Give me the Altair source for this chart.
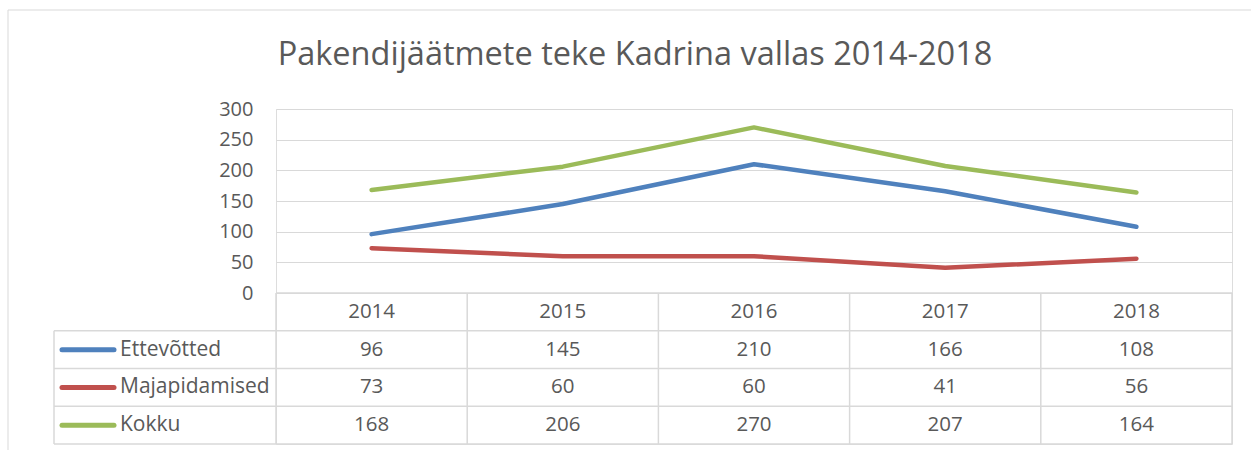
import altair as alt
import pandas as pd

# ---- data ----
years = [2014, 2015, 2016, 2017, 2018]
series = ["Ettevõtted", "Majapidamised", "Kokku"]
ettevotted = [96, 145, 210, 166, 108]
majapidamised = [73, 60, 60, 41, 56]
kokku = [168, 206, 270, 207, 164]
y_ticks = [0, 50, 100, 150, 200, 250, 300]
colors = ["#4F81BD", "#C0504D", "#9BBB59"]
title_text = "Pakendijäätmete teke Kadrina vallas 2014-2018"

# ---- layout constants ----
W, H = 956, 335        # plot area incl. data table
PLOT_H = 184           # line plot part
TXT = "#595959"
GRID = "#D9D9D9"
FONT = "Open Sans"

values_by_series = [ettevotted, majapidamised, kokku]

line_rows = []
for s, vals in zip(series, values_by_series):
    for y, v in zip(years, vals):
        line_rows.append({"year": y, "series": s, "value": v})
line_df = pd.DataFrame(line_rows)

cell_rows = [{"year": y, "row": 0.5, "label": str(y)} for y in years]
for i, vals in enumerate(values_by_series):
    for y, v in zip(years, vals):
        cell_rows.append({"year": y, "row": i + 1.5, "label": str(v)})
cell_df = pd.DataFrame(cell_rows)

legend_df = pd.DataFrame({"series": series, "row": [i + 1.5 for i in range(len(series))]})

edges = [y - 0.5 for y in years] + [years[-1] + 0.5]
vline_df = pd.DataFrame({"x": edges, "r0": [0] * len(edges), "r1": [len(series) + 1] * len(edges)})
hline_df = pd.DataFrame({"row": list(range(len(series) + 2)),
                         "x0": [edges[0]] * (len(series) + 2),
                         "x1": [edges[-1]] * (len(series) + 2)})
hline_leg_df = pd.DataFrame({"row": list(range(1, len(series) + 2))})
vline_leg_df = pd.DataFrame({"r0": [1], "r1": [len(series) + 1]})

xscale = alt.Scale(domain=[edges[0], edges[-1]], nice=False, zero=False)
vscale = alt.Scale(domain=[0, 300], range=[PLOT_H, 0], nice=False, zero=False)
def rscale():
    return alt.Scale(domain=[0, len(series) + 1], range=[PLOT_H, H], nice=False, zero=False)
cscale = alt.Scale(domain=series, range=colors)

lines = alt.Chart(line_df).mark_line(strokeWidth=4.5, strokeCap="round", strokeJoin="round").encode(
    x=alt.X("year:Q", scale=xscale, axis=None),
    y=alt.Y("value:Q", scale=vscale,
            axis=alt.Axis(values=y_ticks, grid=True, gridColor=GRID, gridWidth=1,
                          domain=False, ticks=False, tickSize=0, labelPadding=23,
                          labelFontSize=20, labelFont=FONT, labelColor=TXT, title=None)),
    color=alt.Color("series:N", scale=cscale, legend=None),
    order="year:Q",
)

vlines = alt.Chart(vline_df).mark_rule(color=GRID, strokeWidth=1.5).encode(
    x=alt.X("x:Q", scale=xscale, axis=None),
    y=alt.Y("r0:Q", scale=rscale(), axis=None),
    y2="r1:Q",
)

hlines = alt.Chart(hline_df).mark_rule(color=GRID, strokeWidth=1.5).encode(
    x=alt.X("x0:Q", scale=xscale, axis=None),
    x2="x1:Q",
    y=alt.Y("row:Q", scale=rscale(), axis=None),
)

hlines_leg = alt.Chart(hline_leg_df).mark_rule(color=GRID, strokeWidth=1.5).encode(
    x=alt.value(-222), x2=alt.value(0),
    y=alt.Y("row:Q", scale=rscale(), axis=None),
)

vline_leg = alt.Chart(vline_leg_df).mark_rule(color=GRID, strokeWidth=1.5).encode(
    x=alt.value(-222),
    y=alt.Y("r0:Q", scale=rscale(), axis=None),
    y2="r1:Q",
)

cells = alt.Chart(cell_df).mark_text(font=FONT, fontSize=20.5, color=TXT, align="center", baseline="middle").encode(
    x=alt.X("year:Q", scale=xscale, axis=None),
    y=alt.Y("row:Q", scale=rscale(), axis=None),
    text="label:N",
)

swatches = alt.Chart(legend_df).mark_rule(strokeWidth=5, strokeCap="round").encode(
    x=alt.value(-214), x2=alt.value(-162),
    y=alt.Y("row:Q", scale=rscale(), axis=None),
    color=alt.Color("series:N", scale=cscale, legend=None),
)

leg_labels = alt.Chart(legend_df).mark_text(font=FONT, fontSize=21, color=TXT, align="left", baseline="middle").encode(
    x=alt.value(-156),
    y=alt.Y("row:Q", scale=rscale(), axis=None),
    text="series:N",
)

title = alt.Chart(pd.DataFrame({"t": [title_text]})).mark_text(
    font=FONT, fontSize=32.5, color=TXT, align="center", baseline="middle").encode(
    x=alt.value(359), y=alt.value(-54), text="t:N")

border_top = alt.Chart(pd.DataFrame({"a": [0]})).mark_rule(color=GRID, strokeWidth=1).encode(
    x=alt.value(-268), x2=alt.value(975), y=alt.value(-99))
border_left = alt.Chart(pd.DataFrame({"a": [0]})).mark_rule(color=GRID, strokeWidth=1).encode(
    x=alt.value(-268), y=alt.value(-99), y2=alt.value(341))

chart = alt.layer(
    border_top, border_left, title, lines, vlines, hlines, hlines_leg, vline_leg, cells, swatches, leg_labels
).resolve_scale(y="independent").properties(
    width=W, height=H,
    autosize=alt.AutoSizeParams(type="none"),
    padding={"left": 276, "top": 109, "right": 19, "bottom": 6},
).configure_view(stroke=None).configure(background="white")

chart.save("out.html", embed_options={"renderer": "svg", "actions": False})
